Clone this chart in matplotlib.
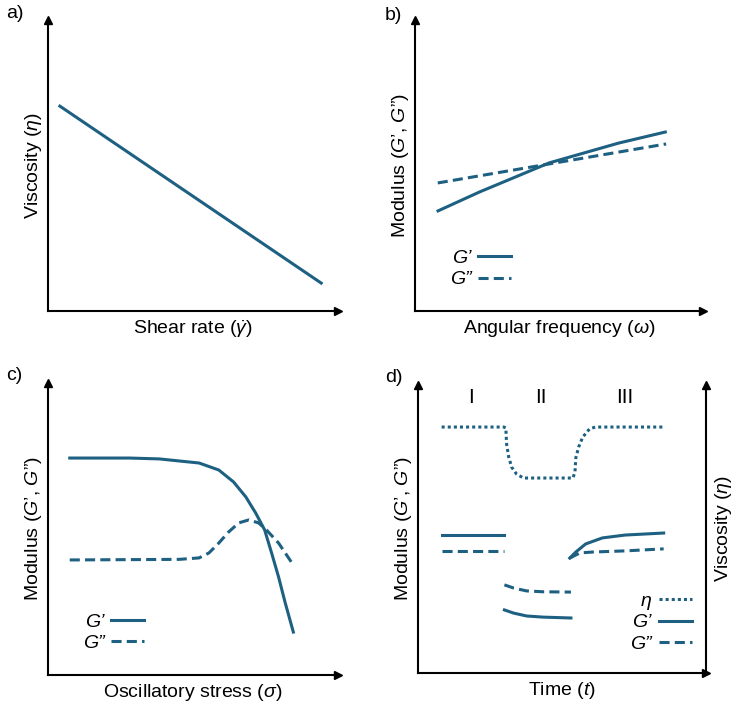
import matplotlib
matplotlib.use('Agg')
import matplotlib.pyplot as plt

# шрифты
plt.rcParams['font.family'] = ['Liberation Sans', 'DejaVu Sans']
plt.rcParams['mathtext.fontset'] = 'custom'
plt.rcParams['mathtext.rm'] = 'Liberation Sans'
plt.rcParams['mathtext.it'] = 'Liberation Sans:italic'
plt.rcParams['font.size'] = 14

# a) вязкость от скорости сдвига
a_x = [0.41, 9.42]
a_visc = [7.04, 0.96]

# b) частотная зависимость
b_x = [0.8, 2.24, 4.66, 7.07, 8.69]
b_g1 = [3.44, 4.09, 5.09, 5.77, 6.15]
b_x2 = [0.79, 8.72]
b_g2 = [4.40, 5.74]

# c) амплитудная зависимость
c_x1 = [0.75, 2.81, 3.84, 4.52, 5.21, 5.89, 6.40, 6.82, 7.16, 7.47, 7.71, 7.95, 8.18, 8.46]
c_g1 = [7.43, 7.43, 7.40, 7.33, 7.26, 7.02, 6.61, 6.10, 5.55, 4.97, 4.18, 3.36, 2.47, 1.47]
c_x2 = [0.75, 4.52, 5.21, 5.55, 5.89, 6.23, 6.58, 6.92, 7.26, 7.53, 7.95, 8.39]
c_g2 = [3.94, 3.96, 4.01, 4.18, 4.52, 4.90, 5.21, 5.31, 5.21, 4.97, 4.52, 3.87]

# d) тиксотропия, три интервала
d_eta_x = [0.82, 2.98, 3.05, 3.06, 3.08, 3.15, 3.25, 3.42, 3.66, 5.38, 5.45, 5.48,
           5.58, 5.72, 5.96, 6.16, 8.53]
d_eta = [8.54, 8.54, 8.51, 8.26, 7.92, 7.50, 7.15, 6.91, 6.77, 6.77, 6.98, 7.47,
         7.85, 8.19, 8.48, 8.54, 8.54]
d1_x = [0.82, 2.98]
d1_g1 = [4.79, 4.79]
d1_g2 = [4.22, 4.22]
d2_x = [3.0, 3.32, 3.77, 4.35, 5.31]
d2_g1 = [2.19, 2.08, 1.98, 1.94, 1.91]
d2_g2 = [3.06, 2.95, 2.85, 2.82, 2.81]
d3_x = [5.27, 5.48, 5.82, 6.40, 7.19, 8.53]
d3_g1 = [3.99, 4.20, 4.48, 4.69, 4.79, 4.86]
d3_x2 = [5.27, 5.62, 6.06, 7.19, 8.53]
d3_g2 = [3.99, 4.17, 4.20, 4.24, 4.31]
intervals = ['I', 'II', 'III']
interval_x = [1.85, 4.25, 7.19]

col = '#1d6082'
lw = 2.2
dash = (0, (3.3, 1.7))
dot = (0, (1, 1))

W, H = 737, 706
fig = plt.figure(figsize=(W / 100, H / 100), dpi=100)


def make_ax(left, top, right, bottom):
    ax = fig.add_axes([left / W, 1 - bottom / H, (right - left) / W, (bottom - top) / H])
    ax.set_xlim(0, 10)
    ax.set_ylim(0, 10)
    ax.set_xticks([])
    ax.set_yticks([])
    for s in ['top', 'right']:
        ax.spines[s].set_visible(False)
    for s in ['left', 'bottom']:
        ax.spines[s].set_linewidth(1.5)
    ax.plot(1, 0, '>k', ms=6, transform=ax.transAxes, clip_on=False)
    ax.plot(0, 1, '^k', ms=6, transform=ax.transAxes, clip_on=False)
    ax.xaxis.labelpad = 5
    ax.yaxis.labelpad = 3
    return ax


def gleg(ax, handles, labels, loc, anchor):
    ax.legend(handles, labels, loc=loc, bbox_to_anchor=anchor, markerfirst=False,
              frameon=False, handlelength=1.7, handletextpad=0.35, labelspacing=0.2,
              borderpad=0, borderaxespad=0, prop={'size': 14, 'style': 'italic'})


mod_label = 'Modulus ($G$’, $G$”)'

# a)
ax = make_ax(48, 20, 338, 311)
ax.plot(a_x, a_visc, color=col, lw=lw)
ax.set_xlabel(r'Shear rate ($\dot{\gamma}$)')
ax.set_ylabel(r'Viscosity ($\eta$)')

# b)
ax = make_ax(415, 20, 703, 311)
l1, = ax.plot(b_x, b_g1, color=col, lw=lw)
l2, = ax.plot(b_x2, b_g2, color=col, lw=lw, ls=dash)
ax.set_xlabel(r'Angular frequency ($\omega$)')
ax.set_ylabel(mod_label)
gleg(ax, [l1, l2], ['G’', 'G”'], 'center left', (0.12, 0.145))

# c)
ax = make_ax(48, 383, 338, 675)
l1, = ax.plot(c_x1, c_g1, color=col, lw=lw)
l2, = ax.plot(c_x2, c_g2, color=col, lw=lw, ls=dash)
ax.set_xlabel(r'Oscillatory stress ($\sigma$)')
ax.set_ylabel(mod_label)
gleg(ax, [l1, l2], ['G’', 'G”'], 'center left', (0.12, 0.145))

# d)
ax = make_ax(418, 385, 706, 673)
ax.plot(d1_x, d1_g1, color=col, lw=lw)
ax.plot(d1_x, d1_g2, color=col, lw=lw, ls=dash)
ax.plot(d2_x, d2_g1, color=col, lw=lw)
ax.plot(d2_x, d2_g2, color=col, lw=lw, ls=dash)
l1, = ax.plot(d3_x, d3_g1, color=col, lw=lw)
l2, = ax.plot(d3_x2, d3_g2, color=col, lw=lw, ls=dash)
ax.set_xlabel(r'Time ($t$)')
ax.set_ylabel(mod_label)
for lab, xx in zip(intervals, interval_x):
    ax.text(xx, 9.55, lab, ha='center', va='center', fontsize=15)
ax2 = ax.twinx()
ax2.set_ylim(0, 10)
ax2.set_yticks([])
for s in ['top', 'left', 'bottom']:
    ax2.spines[s].set_visible(False)
ax2.spines['right'].set_linewidth(1.5)
ax2.plot(1, 1, '^k', ms=6, transform=ax2.transAxes, clip_on=False)
l0, = ax2.plot(d_eta_x, d_eta, color=col, lw=lw, ls=dot)
ax2.set_ylabel(r'Viscosity ($\eta$)', labelpad=5)
gleg(ax2, [l0, l1, l2], ['η', 'G’', 'G”'], 'center right', (0.95, 0.175))

# подписи панелей
for lab, px, py in [('a)', 15, 13), ('b)', 393, 15), ('c)', 14, 375), ('d)', 394, 377)]:
    fig.text(px / W, 1 - py / H, lab, ha='center', va='center', fontsize=14)

plt.savefig('out.png', dpi=100)
